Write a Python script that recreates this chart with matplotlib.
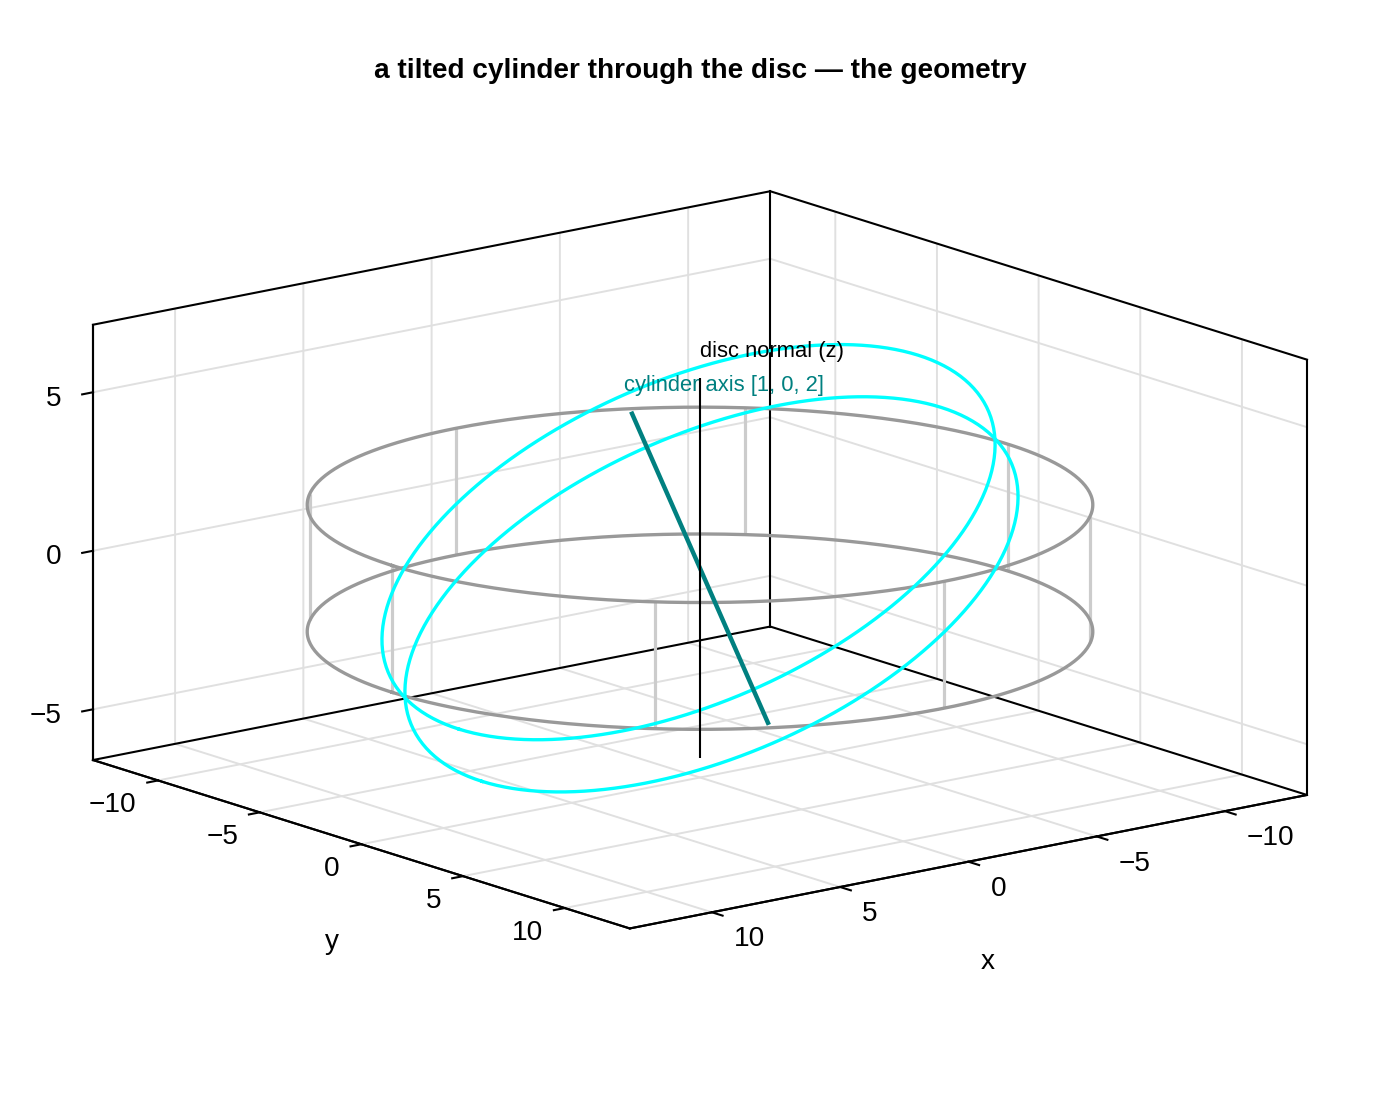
import numpy as np
import matplotlib
matplotlib.use("Agg")
import matplotlib.pyplot as plt
from matplotlib.transforms import Affine2D
from mpl_toolkits.mplot3d import proj3d

plt.rcParams['font.family'] = ['Liberation Sans', 'DejaVu Sans']

# ---- data ----
title = "a tilted cylinder through the disc \u2014 the geometry"
disc_radius = 12.0
disc_half_height = 2.0
disc_post_angles_deg = [0, 45, 90, 135, 180, 225, 270, 315]
cyl_radius = 10.0
cyl_cap_offsets = [-1.0, 1.0]
cyl_axis = [1.0, 0.0, 2.0]
cyl_axis_half_len = 6.0
normal_z = [-6.0, 6.0]
normal_label = "disc normal (z)"
normal_label_pos = [0.0, 0.0, 6.5]
axis_label = "cylinder axis [1, 0, 2]"
axis_label_pos = [2.97, 0.0, 5.9]
xlim = (-13.2, 13.2)
ylim = (-13.2, 13.2)
zlim = (-6.6, 7.13)
xy_ticks = [-10, -5, 0, 5, 10]
xy_ticklabels = ["\u221210", "\u22125", "0", "5", "10"]
z_ticks = [-5, 0, 5]
z_ticklabels = ["\u22125", "0", "5"]

W, H = 1400, 1120
fig = plt.figure(figsize=(W / 100, H / 100), dpi=100, facecolor='white')
ax = fig.add_axes([0, 0, 1, 1], projection='3d', computed_zorder=False, proj_type='ortho')
ax.patch.set_visible(False)
ax.view_init(elev=14.4, azim=51.6)
ax.set_xlim(*xlim, view_margin=0)
ax.set_ylim(*ylim, view_margin=0)
ax.set_zlim(*zlim, view_margin=0)
ax.set_box_aspect((xlim[1] - xlim[0], ylim[1] - ylim[0], zlim[1] - zlim[0]))

# ---- calibrate the axes box on the figure ----
def corner_px(x, y, z):
    X, Y, _ = proj3d.proj_transform(x, y, z, ax.get_proj())
    return ax.transData.transform((X, Y))

side = 1000.0
cx, cy = 700.0, 560.0
target_l = np.array([93.0, H - 760.0])
target_r = np.array([1307.0, H - 795.0])
for _ in range(3):
    ax.set_position([(cx - side / 2) / W, (cy - side / 2) / H, side / W, side / H])
    ax.apply_aspect()
    pl = corner_px(xlim[1], ylim[0], zlim[0])
    pr = corner_px(xlim[0], ylim[1], zlim[0])
    side *= (target_r[0] - target_l[0]) / (pr[0] - pl[0])
    ax.set_position([(cx - side / 2) / W, (cy - side / 2) / H, side / W, side / H])
    ax.apply_aspect()
    pl = corner_px(xlim[1], ylim[0], zlim[0])
    pr = corner_px(xlim[0], ylim[1], zlim[0])
    shift = (target_l + target_r) / 2 - (pl + pr) / 2
    cx += shift[0]
    cy += shift[1]
ax.set_position([(cx - side / 2) / W, (cy - side / 2) / H, side / W, side / H])

# ---- axes styling ----
SPINE = 1.5
GRID = (0.88, 0.88, 0.88)
for axis in (ax.xaxis, ax.yaxis, ax.zaxis):
    axis.pane.set_visible(False)
    axis.line.set_color('black')
    axis.line.set_linewidth(SPINE)
    axis.offsetText.set_visible(False)
    axis._axinfo['grid'].update(color=GRID, linewidth=1.4)
    axis._axinfo['tick'].update(outward_factor=0.0, linewidth={True: SPINE, False: SPINE})
ax.xaxis._axinfo['tick']['inward_factor'] = 0.25
ax.yaxis._axinfo['tick']['inward_factor'] = 0.2
ax.zaxis._axinfo['tick']['inward_factor'] = 0.2

ax.set_xticks(xy_ticks, xy_ticklabels)
ax.set_yticks(xy_ticks, xy_ticklabels)
ax.set_zticks(z_ticks, z_ticklabels)
ax.tick_params(axis='both', which='major', labelsize=20.2, pad=0, colors='black')
ax.tick_params(axis='z', which='major', labelsize=20.2, pad=0, colors='black')
ax.set_xlabel('x', fontsize=20.2)
ax.set_ylabel('y', fontsize=20.2)
ax.zaxis.set_ticks_position('lower')
ax.zaxis.label.set_visible(False)

def shifted(artist, dx, dy):
    off = ax.transData + Affine2D().translate(dx, dy)
    artist.get_transform = lambda: off

for axis, ha, va, dx, dy in ((ax.xaxis, 'left', 'top', 13, -4),
                             (ax.yaxis, 'right', 'top', -10, -2),
                             (ax.zaxis, 'right', 'center', -11, -7)):
    for t in axis.get_major_ticks():
        t.label1.set_ha(ha)
        t.label1.set_va(va)
        shifted(t.label1, dx, dy)
shifted(ax.xaxis.label, -9, -68)
shifted(ax.yaxis.label, 6, -68)

# ---- box outline (back walls and floor) ----
x0, x1 = xlim
y0, y1 = ylim
z0, z1 = zlim
outline = [((x1, y0), (z0, z1)), ((x0, y0), (z0, z1)), ((x0, y1), (z0, z1))]
for (px, py), zs in outline:
    ax.plot([px, px], [py, py], zs, color='black', lw=SPINE, zorder=1)
for xs, ys, z in (([x1, x0, x0], [y0, y0, y1], z1),
                  ([x1, x0, x0, x1, x1], [y0, y0, y1, y1, y0], z0)):
    ax.plot(xs, ys, [z] * len(xs), color='black', lw=SPINE, zorder=1)

# ---- marks ----
theta = np.linspace(0, 2 * np.pi, 361)
for a in np.deg2rad(disc_post_angles_deg):
    ax.plot([disc_radius * np.cos(a)] * 2, [disc_radius * np.sin(a)] * 2,
            [-disc_half_height, disc_half_height], color='#cccccc', lw=2.3, zorder=2,
            solid_capstyle='butt')
for z in (-disc_half_height, disc_half_height):
    ax.plot(disc_radius * np.cos(theta), disc_radius * np.sin(theta), np.full_like(theta, z),
            color='#999999', lw=2.4, zorder=3)

n = np.array(cyl_axis) / np.linalg.norm(cyl_axis)
u = np.array([n[2], 0.0, -n[0]])
v = np.array([0.0, 1.0, 0.0])
for s in cyl_cap_offsets:
    pts = s * n[:, None] + cyl_radius * (u[:, None] * np.cos(theta) + v[:, None] * np.sin(theta))
    ax.plot(pts[0], pts[1], pts[2], color='cyan', lw=2.4, zorder=4)
ends = np.array([-cyl_axis_half_len * n, cyl_axis_half_len * n]).T
ax.plot(ends[0], ends[1], ends[2], color='teal', lw=3.2, zorder=5, solid_capstyle='butt')
ax.plot([0, 0], [0, 0], normal_z, color='black', lw=1.5, zorder=6, solid_capstyle='butt')

ax.text(*normal_label_pos, normal_label, color='black', fontsize=15.84, ha='left', va='bottom', zorder=7)
ax.text(*axis_label_pos, axis_label, color='teal', fontsize=15.84, ha='left', va='bottom', zorder=7)

fig.text(0.5, 1 - 71 / H, title, ha='center', va='center', fontsize=20.2, fontweight='bold')

fig.savefig('out.png', dpi=100, facecolor='white')
